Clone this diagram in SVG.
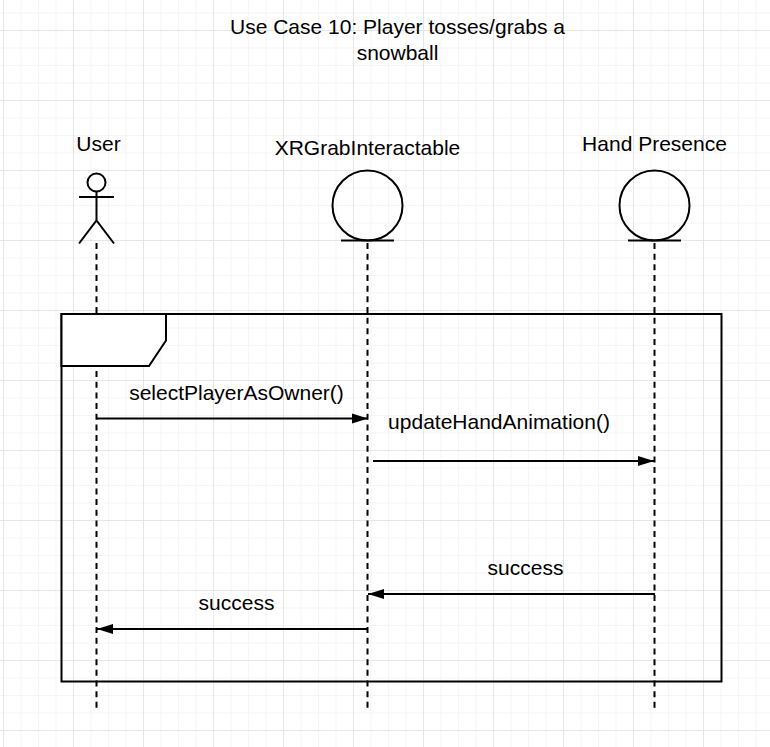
<svg xmlns="http://www.w3.org/2000/svg" width="770" height="747" viewBox="0 0 770 747">
<style>
text{font-family:"Liberation Sans",Arial,sans-serif;font-size:21px;fill:#000;text-anchor:middle}
.s{fill:none;stroke:#000;stroke-width:2}
.w{fill:#fff;stroke:#000;stroke-width:2}
.d{fill:none;stroke:#000;stroke-width:2;stroke-dasharray:6 4.670}
</style>
<defs>
<pattern id="minor" width="17.5" height="17.5" patternUnits="userSpaceOnUse" x="3" y="12.5">
<path d="M0.5 0V17.5M0 0.5H17.5" fill="none" stroke="#f5f5f5" stroke-width="1"/>
</pattern>
<pattern id="major" width="70" height="70" patternUnits="userSpaceOnUse" x="3" y="30">
<path d="M0.5 0V70M0 0.5H70" fill="none" stroke="#e6e6e6" stroke-width="1"/>
</pattern>
<marker id="arrow" markerUnits="userSpaceOnUse" markerWidth="18" markerHeight="12" refX="16" refY="6" orient="auto">
<path d="M0 1L16 6L0 11Z" fill="#000"/>
</marker>
</defs>
<rect width="770" height="747" fill="#fff"/>
<rect width="770" height="747" fill="url(#minor)"/>
<rect width="770" height="747" fill="url(#major)"/>
<g id="title"><text x="397.500" y="34">Use Case 10: Player tosses/grabs a</text><text x="397.500" y="60">snowball</text></g>
<g id="connectors">
<path class="d" d="M96.500 243V711"/>
<path class="d" d="M367.500 243V708"/>
<path class="d" d="M654.500 243V708"/>
<path class="s" d="M97 418.500H368" marker-end="url(#arrow)"/>
<path class="s" d="M373 461H654" marker-end="url(#arrow)"/>
<path class="s" d="M655 594H368" marker-end="url(#arrow)"/>
<path class="s" d="M367 629H97" marker-end="url(#arrow)"/>
</g>
<g id="frame">
<rect class="s" x="61.500" y="314" width="660" height="367.500"/>
<path class="w" d="M61.500 314H166V340.500L149 366H61.500Z"/>
</g>
<g id="user"><text x="98.500" y="151">User</text>
<circle class="s" cx="96.500" cy="182.500" r="9"/>
<path class="s" d="M96.500 191.500V220.500M79 197H114M79 243.500L96.500 220.500L114 243.500"/></g>
<g id="xrgrab"><text x="367.500" y="155">XRGrabInteractable</text>
<circle class="s" cx="367.500" cy="205.500" r="35"/>
<path class="s" d="M341 240.500H394"/></g>
<g id="hand"><text x="654.500" y="151">Hand Presence</text>
<circle class="s" cx="654.500" cy="205.500" r="35"/>
<path class="s" d="M628 240.500H681"/></g>
<g id="labels">
<text x="236.500" y="400">selectPlayerAsOwner()</text>
<text x="499" y="429">updateHandAnimation()</text>
<text x="525.500" y="575">success</text>
<text x="236.500" y="610">success</text>
</g>
</svg>
